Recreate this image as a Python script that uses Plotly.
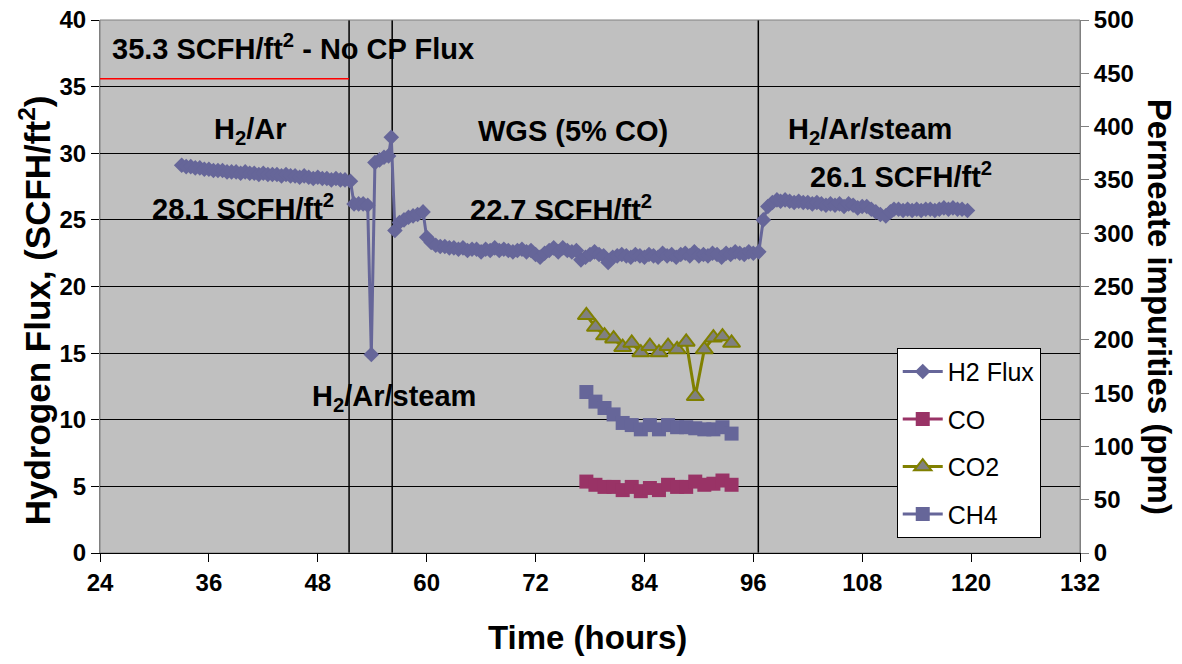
import plotly.graph_objects as go

# ---------------- data ----------------
h2_time = [33.0, 33.5, 34.0, 34.5, 35.0, 35.5, 36.0, 36.5, 37.0, 37.5, 38.0, 38.5, 39.0, 39.5,
           40.0, 40.5, 41.0, 41.5, 42.0, 42.5, 43.0, 43.5, 44.0, 44.5, 45.0, 45.5, 46.0, 46.5,
           47.0, 47.5, 48.0, 48.5, 49.0, 49.5, 50.0, 50.5, 51.0, 51.6,
           52.0, 52.5, 53.0, 53.5, 53.9, 54.3, 54.8, 55.3, 55.8, 56.1,
           56.5, 57.0, 57.5, 58.0, 58.5, 59.0, 59.6,
           60.0, 60.5, 61.0, 61.5, 62.0, 62.5, 63.0, 63.5, 64.0, 64.5, 65.0, 65.5, 66.0, 66.5,
           67.0, 67.5, 68.0, 68.5, 69.0, 69.5, 70.0, 70.5, 71.0, 71.5, 72.0, 72.5, 73.0, 73.5,
           74.0, 74.5, 75.0, 75.5, 76.0, 76.5, 77.0, 77.5, 78.0, 78.5, 79.0, 79.5, 80.0, 80.5,
           81.0, 81.5, 82.0, 82.5, 83.0, 83.5, 84.0, 84.5, 85.0, 85.5, 86.0, 86.5, 87.0, 87.5,
           88.0, 88.5, 89.0, 89.5, 90.0, 90.5, 91.0, 91.5, 92.0, 92.5, 93.0, 93.5, 94.0, 94.5,
           95.0, 95.5, 96.0, 96.6,
           97.1, 97.6, 98.1, 98.6, 99.0, 99.5, 100.0, 100.5, 101.0, 101.5, 102.0, 102.5, 103.0,
           103.5, 104.0, 104.5, 105.0, 105.5, 106.0, 106.5, 107.0, 107.5, 108.0, 108.5, 109.0,
           109.5, 110.0, 110.6, 111.1, 111.5, 112.0, 112.5, 113.0, 113.5, 114.0, 114.5, 115.0,
           115.5, 116.0, 116.5, 117.0, 117.5, 118.0, 118.5, 119.0, 119.6]
h2_flux = [29.1, 29.0, 29.0, 28.9, 28.9, 28.8, 28.8, 28.7, 28.7, 28.7, 28.6, 28.6, 28.6, 28.5,
           28.6, 28.5, 28.5, 28.4, 28.5, 28.4, 28.4, 28.4, 28.3, 28.4, 28.3, 28.3, 28.2, 28.3,
           28.2, 28.1, 28.2, 28.1, 28.1, 28.0, 28.1, 28.0, 28.0, 27.9,
           26.2, 26.2, 26.2, 26.1, 14.9, 29.3, 29.5, 29.7, 29.8, 31.2,
           24.2, 24.8, 25.0, 25.2, 25.3, 25.4, 25.6,
           23.7, 23.3, 23.1, 23.0, 23.0, 22.9, 22.9, 22.8, 22.9, 22.7, 22.8, 22.8, 22.6, 22.8,
           22.7, 22.9, 22.7, 22.8, 22.7, 22.6, 22.7, 22.8, 22.6, 22.7, 22.4, 22.2, 22.5, 22.7,
           22.9, 22.6, 22.9, 22.7, 22.6, 22.7, 22.0, 22.2, 22.4, 22.6, 22.4, 22.3, 21.8, 22.2,
           22.3, 22.4, 22.3, 22.2, 22.4, 22.3, 22.2, 22.4, 22.3, 22.2, 22.5, 22.3, 22.4, 22.2,
           22.4, 22.5, 22.3, 22.6, 22.3, 22.4, 22.3, 22.5, 22.4, 22.2, 22.5, 22.4, 22.6, 22.5,
           22.4, 22.6, 22.5, 22.6,
           25.0, 26.0, 26.3, 26.5, 26.4, 26.5, 26.4, 26.3, 26.4, 26.3, 26.3, 26.2, 26.3,
           26.2, 26.1, 26.2, 26.1, 26.2, 26.0, 26.2, 26.1, 25.9, 26.0, 26.0, 25.8,
           25.6, 25.4, 25.3, 25.6, 25.8, 25.8, 25.7, 25.8, 25.7, 25.8, 25.7, 25.8,
           25.8, 25.7, 25.8, 25.9, 25.8, 25.9, 25.8, 25.8, 25.7]

imp_time = [77.6, 78.6, 79.6, 80.6, 81.6, 82.6, 83.6, 84.6, 85.6, 86.6, 87.6, 88.6, 89.6,
            90.6, 91.6, 92.6, 93.6]
co_ppm = [67, 64, 62, 62, 59, 62, 58, 61, 59, 64, 62, 62, 67, 64, 65, 68, 64]
co2_ppm = [223, 212, 204, 201, 193, 197, 188, 194, 188, 194, 191, 198, 147, 191, 202, 203, 197]
ch4_ppm = [151, 142, 136, 130, 122, 120, 116, 120, 116, 120, 118, 118, 117, 116, 116, 118, 112]

phase_lines = [51.45, 56.2, 96.55]
no_cp_flux_level = 35.6
no_cp_flux_end = 51.45

x_ticks = [24, 36, 48, 60, 72, 84, 96, 108, 120, 132]

# ---------------- figure ----------------
FONT = "Liberation Sans, Arial, sans-serif"
fig = go.Figure()

fig.add_trace(go.Scatter(
    x=h2_time, y=h2_flux, name="H2 Flux", mode="lines+markers",
    line=dict(color="#666699", width=3),
    marker=dict(symbol="diamond", size=12, color="#666699"),
    legendgroup="a", yaxis="y"))
fig.add_trace(go.Scatter(
    x=imp_time, y=co_ppm, name="CO", mode="lines+markers",
    line=dict(color="#993366", width=3),
    marker=dict(symbol="square", size=14, color="#993366"),
    legendgroup="b", yaxis="y2"))
fig.add_trace(go.Scatter(
    x=imp_time, y=co2_ppm, name="CO2", mode="lines+markers",
    line=dict(color="#808000", width=3),
    marker=dict(symbol="triangle-up", size=15, color="#808080",
                line=dict(color="#808000", width=2)),
    legendgroup="c", yaxis="y2"))
fig.add_trace(go.Scatter(
    x=imp_time, y=ch4_ppm, name="CH4", mode="lines+markers",
    line=dict(color="#666699", width=3),
    marker=dict(symbol="square", size=14, color="#666699"),
    legendgroup="d", yaxis="y2"))

# red reference line
fig.add_shape(type="line", xref="x", yref="y", x0=24, x1=no_cp_flux_end,
              y0=no_cp_flux_level, y1=no_cp_flux_level,
              line=dict(color="#FF0000", width=1.5), layer="below")
# phase separators
for xv in phase_lines:
    fig.add_shape(type="line", xref="x", yref="paper", x0=xv, x1=xv, y0=0, y1=1,
                  line=dict(color="black", width=1.5), layer="below")
# plot border
fig.add_shape(type="rect", xref="paper", yref="paper", x0=0, x1=1, y0=0, y1=1,
              line=dict(color="#808080", width=1), layer="below")

ann_font = dict(family=FONT, size=29, color="black", weight="bold")
texts = [
    ("35.3 SCFH/ft<sup>2</sup> - No CP Flux", 25.1, 37.95, "left"),
    ("H<sub>2</sub>/Ar", 40.6, 31.7, "center"),
    ("28.1 SCFH/ft<sup>2</sup>", 39.75, 26.0, "center"),
    ("WGS (5% CO)", 76.1, 31.7, "center"),
    ("22.7 SCFH/ft<sup>2</sup>", 74.8, 25.9, "center"),
    ("H<sub>2</sub>/Ar/steam", 108.9, 31.7, "center"),
    ("26.1 SCFH/ft<sup>2</sup>", 112.25, 28.35, "center"),
    ("H<sub>2</sub>/Ar/steam", 56.4, 11.6, "center"),
]
for t, xv, yv, xa in texts:
    fig.add_annotation(text=t, x=xv, y=yv, xref="x", yref="y", xanchor=xa,
                       yanchor="middle", showarrow=False, font=ann_font)

fig.add_annotation(text="Hydrogen Flux, (SCFH/ft<sup>2</sup>)", xref="paper", yref="paper",
                   x=-0.066, y=0.456, textangle=-90, showarrow=False,
                   font=dict(family=FONT, size=35, color="black", weight="bold"),
                   xanchor="center", yanchor="middle")
fig.add_annotation(text="Permeate impurities (ppm)", xref="paper", yref="paper",
                   x=1.082, y=0.4615, textangle=90, showarrow=False,
                   font=dict(family=FONT, size=33, color="black", weight="bold"),
                   xanchor="center", yanchor="middle")
fig.add_annotation(text="Time (hours)", xref="paper", yref="paper",
                   x=0.497, y=-0.158, showarrow=False,
                   font=dict(family=FONT, size=33, color="black", weight="bold"),
                   xanchor="center", yanchor="middle")

tick_font = dict(family=FONT, size=24, color="black", weight="bold")
fig.update_layout(
    width=1182, height=664,
    margin=dict(l=100, r=102, t=20, b=111, autoexpand=False),
    paper_bgcolor="white", plot_bgcolor="#C0C0C0",
    showlegend=True,
    legend=dict(x=0.813, y=0.385, xanchor="left", yanchor="top",
                bgcolor="white", bordercolor="black", borderwidth=1,
                font=dict(family=FONT, size=25, color="black"),
                traceorder="grouped", tracegroupgap=12, itemwidth=40),
    xaxis=dict(range=[24, 132], tickvals=x_ticks, ticktext=[str(v) for v in x_ticks],
               showgrid=False, zeroline=False, showline=True, linecolor="black",
               ticks="outside", ticklen=8, tickcolor="black", tickfont=tick_font,
               ticklabeloverflow="allow", automargin=False),
    yaxis=dict(range=[0, 40], dtick=5, showgrid=True, gridcolor="black", gridwidth=1,
               zeroline=False, showline=True, linecolor="#808080",
               ticks="outside", ticklen=8, tickcolor="black", tickfont=tick_font,
               ticklabeloverflow="allow", automargin=False),
    yaxis2=dict(range=[0, 500], dtick=50, overlaying="y", side="right",
                showgrid=False, zeroline=False, showline=True, linecolor="#808080",
                ticks="outside", ticklen=8, tickcolor="#808080", tickfont=tick_font,
                ticklabeloverflow="allow", automargin=False),
)

fig.write_html("out.html", config={"displayModeBar": False},
               post_script="document.body.style.margin='0';document.body.style.overflow='hidden';")
